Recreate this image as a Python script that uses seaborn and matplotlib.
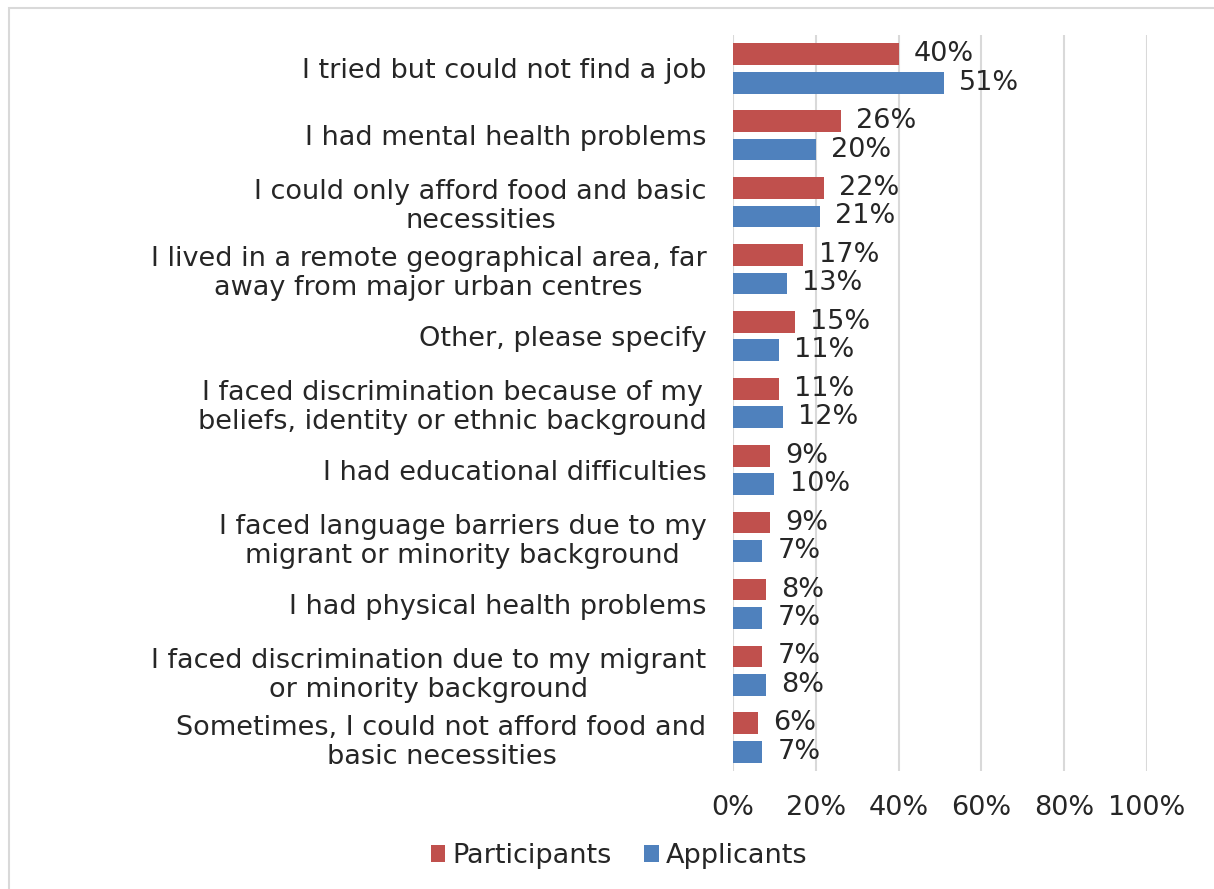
import matplotlib
matplotlib.use("Agg")
import matplotlib.pyplot as plt
from matplotlib.patches import Rectangle, Patch
import seaborn as sns
import pandas as pd

categories = [
    "I tried but could not find a job",
    "I had mental health problems",
    "I could only afford food and basic\nnecessities",
    "I lived in a remote geographical area, far\naway from major urban centres",
    "Other, please specify",
    "I faced discrimination because of my\nbeliefs, identity or ethnic background",
    "I had educational difficulties",
    "I faced language barriers due to my\nmigrant or minority background",
    "I had physical health problems",
    "I faced discrimination due to my migrant\nor minority background",
    "Sometimes, I could not afford food and\nbasic necessities",
]
participants = [40, 26, 22, 17, 15, 11, 9, 9, 8, 7, 6]
applicants = [51, 20, 21, 13, 11, 12, 10, 7, 7, 8, 7]
series = ["Participants", "Applicants"]
colors = ["#C0504D", "#4F81BD"]
xticks = [0, 20, 40, 60, 80, 100]

df = pd.DataFrame({
    "category": categories * 2,
    "value": participants + applicants,
    "series": [series[0]] * len(categories) + [series[1]] * len(categories),
})

sns.set_theme(style="white")
plt.rcParams["font.family"] = ["DejaVu Sans"]
text_color = "#262626"
fs = 19.5

fig = plt.figure(figsize=(12.14, 8.89), dpi=100)
ax = fig.add_axes([733 / 1214, 1 - 771 / 889, (1147 - 733) / 1214, (771 - 35) / 889])

sns.barplot(data=df, y="category", x="value", hue="series", order=categories,
            hue_order=series, palette=colors, orient="h", width=0.85,
            saturation=1, legend=False, ax=ax)

# Slimmer bars, keeping their centres
bar_h = 0.325
for p in ax.patches:
    cy = p.get_y() + p.get_height() / 2
    p.set_height(bar_h)
    p.set_y(cy - bar_h / 2)
    p.set_edgecolor("none")

for cont in ax.containers:
    ax.bar_label(cont, labels=[f"{int(v)}%" for v in cont.datavalues],
                 padding=11, fontsize=fs, color=text_color)

ax.set_xlim(0, 100)
ax.set_ylim(len(categories) - 0.5, -0.5)
ax.set_xticks(xticks)
ax.set_xticklabels([f"{t}%" for t in xticks])
ax.set_xlabel("")
ax.set_ylabel("")
ax.xaxis.grid(True, color="#D9D9D9", linewidth=1.5)
ax.yaxis.grid(False)
ax.set_axisbelow(True)
for s in ax.spines.values():
    s.set_visible(False)
ax.tick_params(axis="x", length=0, pad=17, labelsize=fs, labelcolor=text_color)
ax.tick_params(axis="y", length=0, pad=19, labelsize=fs, labelcolor=text_color)
for lbl in ax.get_yticklabels():
    lbl.set_multialignment("center")
    lbl.set_linespacing(1.15)

handles = [Patch(facecolor=c, edgecolor="none") for c in colors]
fig.legend(handles, series, loc="center", bbox_to_anchor=(619 / 1214, 1 - 856 / 889),
           ncol=2, frameon=False, fontsize=fs, handlelength=0.55, handleheight=0.55,
           handletextpad=0.25, columnspacing=1.2, labelcolor=text_color)

# Chart area frame
fig.add_artist(Rectangle((8.5 / 1214, -0.05), 1.1, 1 - 7.5 / 889 + 0.05,
                         transform=fig.transFigure, fill=False,
                         edgecolor="#D9D9D9", linewidth=1.5))

fig.savefig("out.png", dpi=100, facecolor="white")
